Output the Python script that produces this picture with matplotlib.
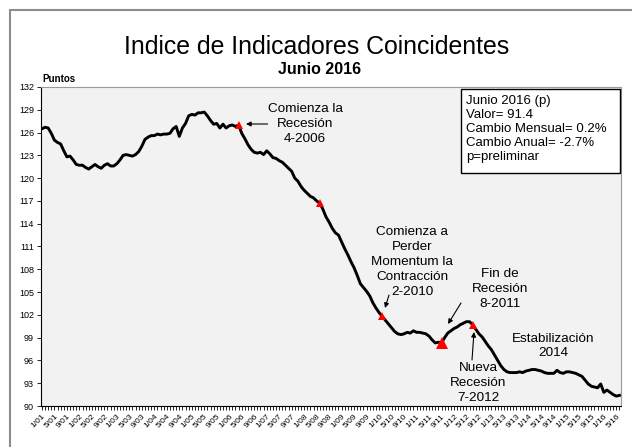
import matplotlib
matplotlib.use("Agg")
import matplotlib.pyplot as plt
from matplotlib.patches import Rectangle
import numpy as np

plt.rcParams['font.family'] = ['Liberation Sans', 'DejaVu Sans']

# Monthly index values, Jan 2001 .. Jun 2016
values = [
    # 2001
    126.5, 126.7, 126.6, 125.9, 125.0, 124.7, 124.5, 123.6, 122.8, 122.9, 122.4, 121.8,
    # 2002
    121.7, 121.7, 121.4, 121.2, 121.5, 121.8, 121.5, 121.3, 121.7, 121.9, 121.6, 121.6,
    # 2003
    121.9, 122.4, 123.0, 123.1, 123.0, 122.9, 123.1, 123.5, 124.2, 125.1, 125.4, 125.6,
    # 2004
    125.6, 125.8, 125.7, 125.8, 125.8, 125.9, 126.5, 126.8, 125.5, 126.6, 127.2, 128.2,
    # 2005
    128.4, 128.3, 128.6, 128.6, 128.7, 128.2, 127.6, 127.1, 127.2, 126.6, 127.1, 126.6,
    # 2006
    126.9, 127.0, 126.8, 127.0, 125.9, 125.2, 124.4, 123.8, 123.4, 123.3, 123.4, 123.1,
    # 2007
    123.6, 123.2, 122.7, 122.6, 122.3, 122.1, 121.7, 121.3, 120.9, 120.0, 119.6, 118.9,
    # 2008
    118.4, 118.0, 117.6, 117.4, 117.0, 116.7, 115.9, 114.9, 114.2, 113.4, 112.8, 112.5,
    # 2009
    111.6, 110.7, 109.9, 109.0, 108.2, 107.2, 106.1, 105.6, 105.1, 104.5, 103.6, 102.9,
    # 2010
    102.3, 101.8, 101.3, 100.8, 100.3, 99.8, 99.5, 99.4, 99.5, 99.7, 99.6, 99.9,
    # 2011
    99.7, 99.7, 99.6, 99.5, 99.2, 98.7, 98.3, 98.4, 98.3, 99.0, 99.6, 99.9,
    # 2012
    100.2, 100.4, 100.7, 100.9, 101.1, 101.1, 100.7, 100.1, 99.5, 99.1, 98.5, 97.9,
    # 2013
    97.4, 96.7, 96.0, 95.3, 94.8, 94.5, 94.4, 94.4, 94.4, 94.5, 94.4, 94.6,
    # 2014
    94.7, 94.8, 94.8, 94.7, 94.6, 94.4, 94.3, 94.3, 94.3, 94.7, 94.4, 94.3,
    # 2015
    94.5, 94.5, 94.4, 94.3, 94.1, 93.9, 93.4, 92.9, 92.6, 92.5, 92.4, 92.9,
    # 2016
    91.8, 92.1, 91.8, 91.5, 91.3, 91.4,
]
start_year = 2001

# Turning-point markers (month index from Jan 2001)
marker_idx = [63, 89, 109, 128, 138]
marker_size = [6, 6, 6, 8, 6]

tick_labels = [f"{m}/{(start_year + y) % 100:02d}"
               for y in range(16) for m in (1, 5, 9)][:47]

y_ticks = list(range(90, 133, 3))

info_lines = ["Junio 2016 (p)", "Valor= 91.4", "Cambio Mensual= 0.2%",
              "Cambio Anual= -2.7%", "p=preliminar"]

W, H = 632, 447
fig = plt.figure(figsize=(W / 100, H / 100), dpi=100)
fig.patch.set_facecolor('white')

# outer frame of the chart (partially outside canvas)
fig.add_artist(Rectangle((10 / W, -0.1), 1.2, 1 - 10 / H + 0.1,
                         transform=fig.transFigure, fill=False,
                         edgecolor='#8c8c8c', linewidth=1.5))

L, R, T, B = 41, 621, 87, 406
ax = fig.add_axes([L / W, 1 - B / H, (R - L) / W, (B - T) / H])
ax.set_facecolor('#f2f2f2')

x = np.arange(len(values))
ax.plot(x, values, color='black', linewidth=2.1, solid_joinstyle='round', zorder=3)
for i, s in zip(marker_idx, marker_size):
    ax.plot(x[i], values[i], marker='^', color='red', markersize=s,
            markeredgewidth=0, zorder=4)

ax.set_xlim(-0.3, len(values) - 0.5)
ax.set_ylim(90, 132)
ax.set_yticks(y_ticks)
ax.set_yticklabels([str(v) for v in y_ticks], fontsize=6.5)
ax.set_xticks(np.arange(0, len(values), 4))
ax.set_xticklabels(tick_labels, rotation=45, ha='right', rotation_mode='anchor',
                   fontsize=6)
ax.set_xticks(np.arange(0, len(values)), minor=True)
ax.tick_params(axis='x', which='both', length=3, width=0.6, direction='out', pad=2)
ax.tick_params(axis='y', length=3, width=0.6, direction='out', pad=2)
for sp in ('top', 'right'):
    ax.spines[sp].set_color('#9a9a9a')
    ax.spines[sp].set_linewidth(0.8)
for sp in ('left', 'bottom'):
    ax.spines[sp].set_color('black')
    ax.spines[sp].set_linewidth(0.8)

# titles
fig.text(317 / W, 1 - 47 / H, "Indice de Indicadores Coincidentes", fontsize=17.9,
         ha='center', va='center')
fig.text(320 / W, 1 - 70 / H, "Junio 2016", fontsize=11.5, fontweight='bold',
         ha='center', va='center')
fig.text(42 / W, 1 - 79 / H, "Puntos", fontsize=7, fontweight='bold',
         ha='left', va='center')

# info box
fig.add_artist(Rectangle((461 / W, 1 - 173 / H), (620 - 461) / W, (173 - 89) / H,
                         transform=fig.transFigure, facecolor='white',
                         edgecolor='black', linewidth=1.0, zorder=5))
fig.text(466 / W, 1 - 95 / H, "\n".join(info_lines), fontsize=9.5,
         ha='left', va='top', linespacing=1.22, zorder=6)

def data_from_px(px, py):
    xf = (px - L) / (R - L)
    yf = (B - py) / (B - T)
    x0, x1 = ax.get_xlim()
    y0, y1 = ax.get_ylim()
    return x0 + xf * (x1 - x0), y0 + yf * (y1 - y0)

ann_fs = 9.7
ann_ls = 1.32
ax.annotate("Comienza la\nRecesión\n4-2006", xy=data_from_px(246, 124),
            xytext=data_from_px(305, 124), ha='center', va='center',
            fontsize=ann_fs, linespacing=ann_ls,
            arrowprops=dict(arrowstyle='-|>', color='black', lw=0.8,
                            mutation_scale=7, shrinkA=0, shrinkB=0,
                            patchA=None, relpos=(0.0, 0.5)))
ax.text(*data_from_px(412, 262), "Comienza a\nPerder\nMomentum la\nContracción\n2-2010",
        ha='center', va='center', fontsize=ann_fs, linespacing=ann_ls)
ax.annotate("", xy=data_from_px(385, 308), xytext=data_from_px(389, 295),
            arrowprops=dict(arrowstyle='-|>', color='black', lw=0.8,
                            mutation_scale=7, shrinkA=0, shrinkB=0))
ax.text(*data_from_px(500, 289), "Fin de\nRecesión\n8-2011",
        ha='center', va='center', fontsize=ann_fs, linespacing=ann_ls)
ax.annotate("", xy=data_from_px(448, 324), xytext=data_from_px(461, 303),
            arrowprops=dict(arrowstyle='-|>', color='black', lw=0.8,
                            mutation_scale=7, shrinkA=0, shrinkB=0))
ax.text(*data_from_px(478, 383), "Nueva\nRecesión\n7-2012",
        ha='center', va='center', fontsize=ann_fs, linespacing=ann_ls)
ax.annotate("", xy=data_from_px(474, 332), xytext=data_from_px(472, 360),
            arrowprops=dict(arrowstyle='-|>', color='black', lw=0.8,
                            mutation_scale=7, shrinkA=0, shrinkB=0))
ax.text(*data_from_px(553, 346), "Estabilización\n2014",
        ha='center', va='center', fontsize=ann_fs, linespacing=ann_ls)

fig.savefig("out.png", dpi=100)
